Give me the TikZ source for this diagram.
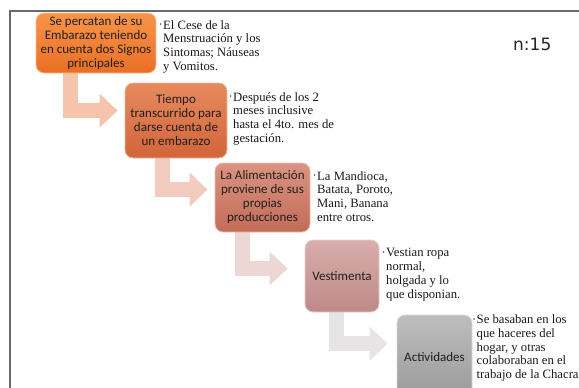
\documentclass[tikz,border=0pt]{standalone}
\usepackage{fontspec}
\setmainfont{Liberation Serif}
\newfontfamily\boxfont{Carlito}
\newfontfamily\numfont{DejaVu Sans}
\usetikzlibrary{calc,arrows.meta,backgrounds}
\definecolor{c1t}{HTML}{F8944A}\definecolor{c1b}{HTML}{E96F24}
\definecolor{c2t}{HTML}{E68A5E}\definecolor{c2b}{HTML}{D2653A}
\definecolor{c3t}{HTML}{DB9382}\definecolor{c3b}{HTML}{C26C58}
\definecolor{c4t}{HTML}{D8AEAC}\definecolor{c4b}{HTML}{BE8A88}
\definecolor{c5t}{HTML}{BEBEBE}\definecolor{c5b}{HTML}{999999}
\definecolor{a1}{HTML}{F6C4AC}
\definecolor{a2}{HTML}{F2CABE}
\definecolor{a3}{HTML}{ECD7D5}
\definecolor{a4}{HTML}{E6E4E4}
\definecolor{framec}{HTML}{6A6A6A}
\newcommand{\bul}{\llap{\raisebox{2.4pt}{\fontsize{6}{6}\selectfont\textbullet}\hspace{1.5pt}}}
\begin{document}
\begin{tikzpicture}[x=1pt,y=-1pt,
  stepbox/.style={rounded corners=8pt, line width=0.8pt, inner sep=0pt, align=center,
    text=black!88, font=\boxfont\fontsize{13}{14}\selectfont},
  note/.style={anchor=north west, inner sep=0pt, align=left,
    font=\fontsize{12.7}{13.8}\selectfont, text=black!90},
  bentarrow/.style={line width=15pt, line join=miter,
    -{Triangle[width=33pt,length=18pt]}}
  ]
\useasboundingbox (0,0) rectangle (579,388);
\draw[framec, line width=1.5pt] (10,390) -- (10,11) -- (581,11);

\node[stepbox, minimum width=120pt, minimum height=60pt, top color=c1t, bottom color=c1b, draw=c1t!60!white] (b1) at (96,43)
  {Se percatan de su\\Embarazo teniendo\\en cuenta dos Signos\\principales};
\node[stepbox, minimum width=102pt, minimum height=75pt, top color=c2t, bottom color=c2b, draw=c2t!60!white] (b2) at (176,120.5)
  {Tiempo\\transcurrido para\\darse cuenta de\\un embarazo};
\node[stepbox, minimum width=95pt, minimum height=69pt, top color=c3t, bottom color=c3b, draw=c3t!60!white] (b3) at (262.5,197.5)
  {La Alimentación\\proviene de sus\\propias\\producciones};
\node[stepbox, minimum width=74pt, minimum height=72pt, top color=c4t, bottom color=c4b, draw=c4t!60!white] (b4) at (342,276)
  {Vestimenta};
\node[stepbox, minimum width=75pt, minimum height=84pt, top color=c5t, bottom color=c5b, draw=c5t!60!white] (b5) at (434.5,357)
  {Actividades};

\begin{scope}[on background layer]
\draw[bentarrow, a1, shorten >=7pt] ($(b1.south west)+(34.5,0)$) |- ([yshift=-28pt]b2.north west);
\draw[bentarrow, a2, shorten >=7pt] ($(b2.south west)+(37.5,0)$) |- ([yshift=-27pt]b3.north west);
\draw[bentarrow, a3, shorten >=17pt] ($(b3.south west)+(27.5,0)$) |- ([yshift=-29pt]b4.north west);
\draw[bentarrow, a4, shorten >=9pt] ($(b4.south west)+(32,0)$) |- ([yshift=-29pt]b5.north west);
\end{scope}

\node[note] (n1) at (163,20) {\bul El Cese de la\\Menstruación y los\\Sintomas; Náuseas\\y Vomitos.};
\node[note] (n2) at (233,92) {\bul Después de los 2\\meses inclusive\\hasta el 4to. mes de\\gestación.};
\node[note] (n3) at (317,171) {\bul La Mandioca,\\Batata, Poroto,\\Mani, Banana\\entre otros.};
\node[note] (n4) at (386,248) {\bul Vestian ropa\\normal,\\holgada y lo\\que disponian.};
\node[note] (n5) at (476.5,314.5) {\bul Se basaban en los\\que haceres del\\hogar, y otras\\colaboraban en el\\trabajo de la Chacra};

\node[font=\numfont\fontsize{17}{20}\selectfont, text=black!85, anchor=base west, inner sep=0pt] (num) at (513,50) {n:15};
\end{tikzpicture}
\end{document}
